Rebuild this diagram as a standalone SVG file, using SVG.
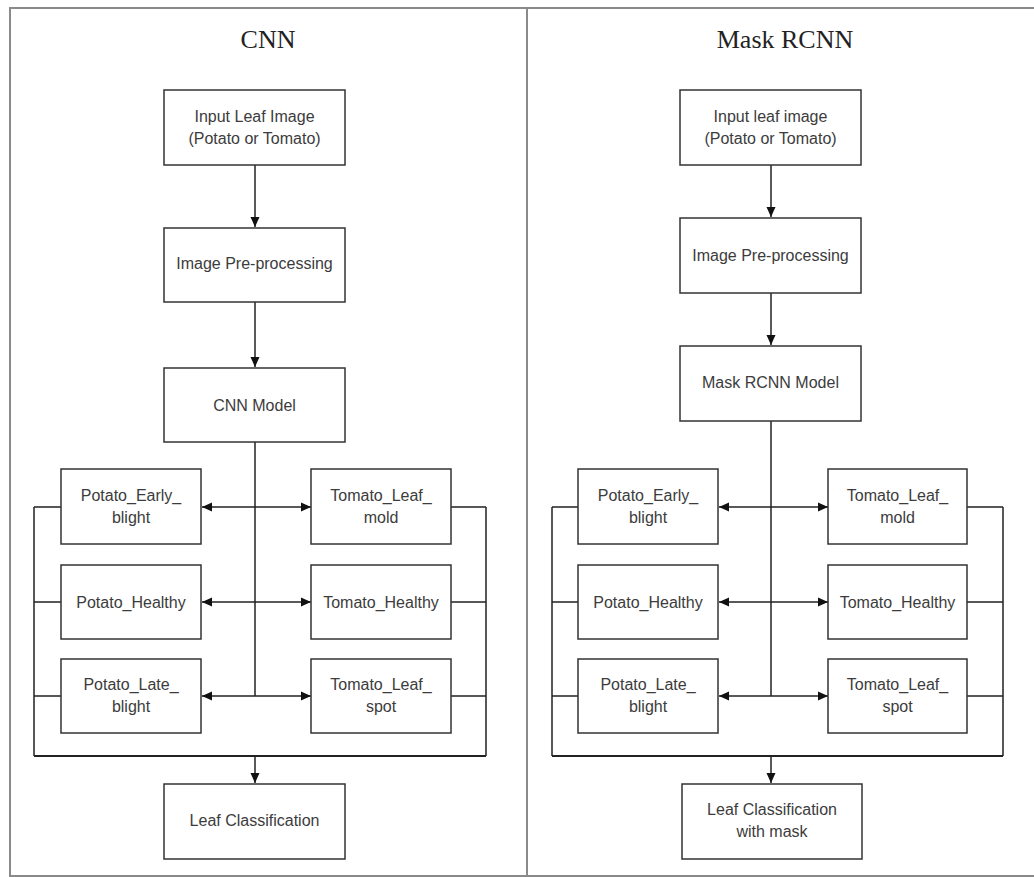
<svg xmlns="http://www.w3.org/2000/svg" width="1034" height="877" viewBox="0 0 1034 877">
<style>
.frame{fill:none;stroke:#8a8a8a;stroke-width:2}
.box rect{fill:#fff;stroke:#333;stroke-width:1.5}
.box text{font-family:"Liberation Sans",Arial,sans-serif;font-size:16px;fill:#3c3c3c;text-anchor:middle}
.title{font-family:"Liberation Serif","Times New Roman",serif;font-size:26px;fill:#222;text-anchor:middle}
.c{fill:none;stroke:#222;stroke-width:1.5}
.bus{fill:none;stroke:#222;stroke-width:2.2}
</style>
<defs>
<marker id="ah" markerUnits="userSpaceOnUse" markerWidth="10" markerHeight="10" viewBox="0 0 10 10" refX="10" refY="5" orient="auto">
<path d="M0,0.5 L10,5 L0,9.5 Z" fill="#111"/>
</marker>
</defs>
<rect width="1034" height="877" fill="#fff"/>
<g id="frame">
<path class="frame" d="M1034,8 H10 V876 H1034 M527,8 V876"/>
</g>
<text class="title" x="268" y="48">CNN</text>
<text class="title" x="785" y="48">Mask RCNN</text>

<g id="connectors">
<!-- CNN -->
<path class="c" d="M255,165 V227" marker-end="url(#ah)"/>
<path class="c" d="M255,302 V367" marker-end="url(#ah)"/>
<path class="c" d="M255,442 V696"/>
<path class="c" d="M255,507 H202" marker-end="url(#ah)"/>
<path class="c" d="M255,507 H311" marker-end="url(#ah)"/>
<path class="c" d="M255,602 H202" marker-end="url(#ah)"/>
<path class="c" d="M255,602 H311" marker-end="url(#ah)"/>
<path class="c" d="M255,696 H202" marker-end="url(#ah)"/>
<path class="c" d="M255,696 H311" marker-end="url(#ah)"/>
<path class="c" d="M61,507 H34 M61,602 H34 M61,696 H34 M451,507 H486 M451,602 H486 M451,696 H486"/>
<path class="c" d="M34,507 V756 M486,507 V756"/>
<path class="bus" d="M34,756 H486"/>
<path class="c" d="M255,756 V783" marker-end="url(#ah)"/>
<!-- Mask RCNN -->
<path class="c" d="M771,165 V217" marker-end="url(#ah)"/>
<path class="c" d="M771,293 V345" marker-end="url(#ah)"/>
<path class="c" d="M771,421 V696"/>
<path class="c" d="M771,507 H719" marker-end="url(#ah)"/>
<path class="c" d="M771,507 H828" marker-end="url(#ah)"/>
<path class="c" d="M771,602 H719" marker-end="url(#ah)"/>
<path class="c" d="M771,602 H828" marker-end="url(#ah)"/>
<path class="c" d="M771,696 H719" marker-end="url(#ah)"/>
<path class="c" d="M771,696 H828" marker-end="url(#ah)"/>
<path class="c" d="M578,507 H552 M578,602 H552 M578,696 H552 M967,507 H1003 M967,602 H1003 M967,696 H1003"/>
<path class="c" d="M552,507 V756 M1003,507 V756"/>
<path class="bus" d="M552,756 H1003"/>
<path class="c" d="M771,756 V783" marker-end="url(#ah)"/>
</g>

<!-- CNN nodes -->
<g id="cnn-input" class="box"><rect x="164" y="90" width="181" height="75"/><text x="254.5" y="122">Input Leaf Image</text><text x="254.5" y="144">(Potato or Tomato)</text></g>
<g id="cnn-preproc" class="box"><rect x="164" y="228" width="181" height="74"/><text x="254.5" y="269">Image Pre-processing</text></g>
<g id="cnn-model" class="box"><rect x="164" y="368" width="181" height="74"/><text x="254.5" y="411">CNN Model</text></g>
<g id="cnn-peb" class="box"><rect x="61" y="469" width="140" height="75"/><text x="131" y="501">Potato_Early_</text><text x="131" y="523">blight</text></g>
<g id="cnn-ph" class="box"><rect x="61" y="565" width="140" height="74"/><text x="131" y="608">Potato_Healthy</text></g>
<g id="cnn-plb" class="box"><rect x="61" y="659" width="140" height="74"/><text x="131" y="690">Potato_Late_</text><text x="131" y="712">blight</text></g>
<g id="cnn-tlm" class="box"><rect x="311" y="469" width="140" height="75"/><text x="381" y="501">Tomato_Leaf_</text><text x="381" y="523">mold</text></g>
<g id="cnn-th" class="box"><rect x="311" y="565" width="140" height="74"/><text x="381" y="608">Tomato_Healthy</text></g>
<g id="cnn-tls" class="box"><rect x="311" y="659" width="140" height="74"/><text x="381" y="690">Tomato_Leaf_</text><text x="381" y="712">spot</text></g>
<g id="cnn-out" class="box"><rect x="164" y="784" width="181" height="75"/><text x="254.5" y="826">Leaf Classification</text></g>

<!-- Mask RCNN nodes -->
<g id="mr-input" class="box"><rect x="680" y="90" width="181" height="75"/><text x="770.5" y="122">Input leaf image</text><text x="770.5" y="144">(Potato or Tomato)</text></g>
<g id="mr-preproc" class="box"><rect x="680" y="218" width="181" height="75"/><text x="770.5" y="261">Image Pre-processing</text></g>
<g id="mr-model" class="box"><rect x="680" y="346" width="181" height="75"/><text x="770.5" y="388">Mask RCNN Model</text></g>
<g id="mr-peb" class="box"><rect x="578" y="469" width="140" height="75"/><text x="648" y="501">Potato_Early_</text><text x="648" y="523">blight</text></g>
<g id="mr-ph" class="box"><rect x="578" y="565" width="140" height="74"/><text x="648" y="608">Potato_Healthy</text></g>
<g id="mr-plb" class="box"><rect x="578" y="659" width="140" height="74"/><text x="648" y="690">Potato_Late_</text><text x="648" y="712">blight</text></g>
<g id="mr-tlm" class="box"><rect x="828" y="469" width="139" height="75"/><text x="897.5" y="501">Tomato_Leaf_</text><text x="897.5" y="523">mold</text></g>
<g id="mr-th" class="box"><rect x="828" y="565" width="139" height="74"/><text x="897.5" y="608">Tomato_Healthy</text></g>
<g id="mr-tls" class="box"><rect x="828" y="659" width="139" height="74"/><text x="897.5" y="690">Tomato_Leaf_</text><text x="897.5" y="712">spot</text></g>
<g id="mr-out" class="box"><rect x="682" y="784" width="180" height="75"/><text x="772" y="815">Leaf Classification</text><text x="772" y="837">with mask</text></g>
</svg>
